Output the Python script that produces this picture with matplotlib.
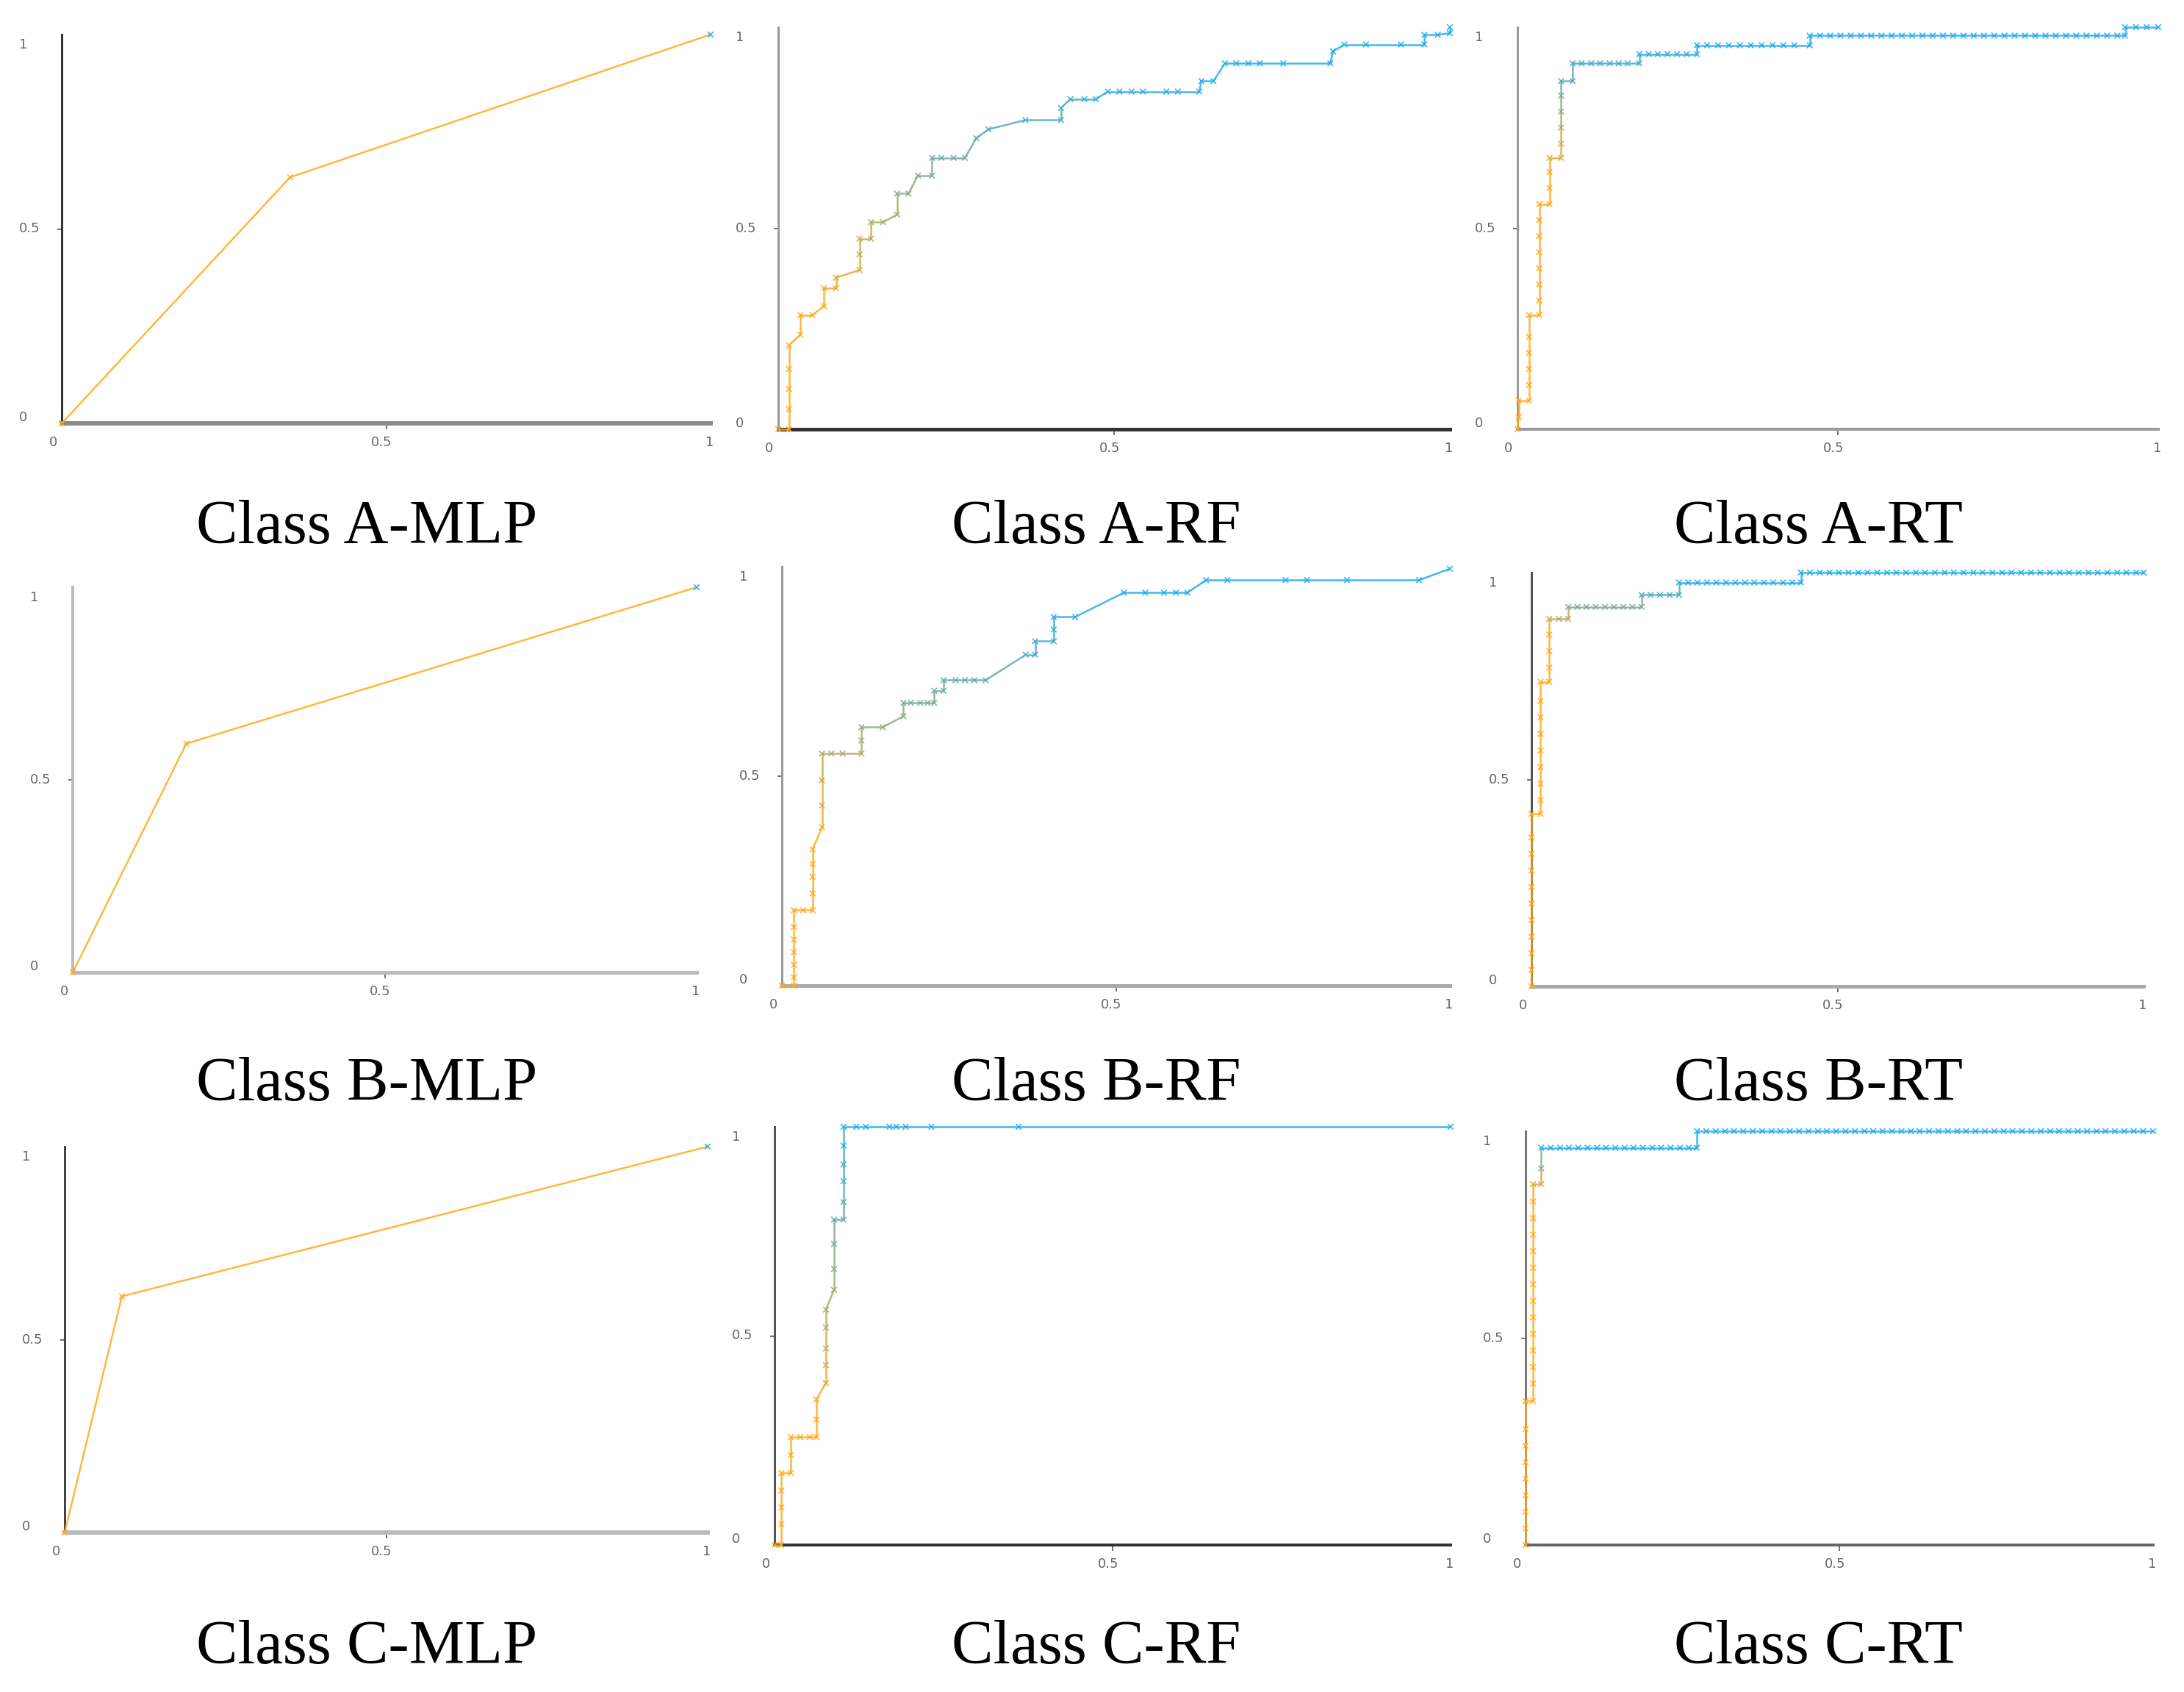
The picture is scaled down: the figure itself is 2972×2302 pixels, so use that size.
import matplotlib.pyplot as plt
import numpy as np
from matplotlib.collections import LineCollection
from matplotlib import transforms

# ROC points: false positive rate / true positive rate
a_mlp_fpr = [0, 0.352, 1]
a_mlp_tpr = [0, 0.633, 1]
b_mlp_fpr = [0, 0.182, 1]
b_mlp_tpr = [0, 0.594, 1]
c_mlp_fpr = [0, 0.089, 1]
c_mlp_tpr = [0, 0.612, 1]

a_rf_fpr = [0, 0.016, 0.016, 0.016, 0.016, 0.016, 0.033, 0.033, 0.051, 0.068, 0.068, 0.086, 0.086,
            0.121, 0.121, 0.121, 0.138, 0.138, 0.156, 0.177, 0.177, 0.194, 0.208, 0.229, 0.229, 0.243,
            0.261, 0.278, 0.295, 0.313, 0.368, 0.421, 0.421, 0.435, 0.456, 0.473, 0.491, 0.508, 0.526,
            0.543, 0.578, 0.595, 0.627, 0.630, 0.648, 0.665, 0.682, 0.700, 0.717, 0.752, 0.822, 0.826,
            0.843, 0.875, 0.927, 0.962, 0.962, 0.982, 1.0, 1.0]
a_rf_tpr = [0, 0, 0.05, 0.10, 0.15, 0.209, 0.235, 0.284, 0.284, 0.306, 0.351, 0.351, 0.377,
            0.396, 0.435, 0.474, 0.474, 0.515, 0.515, 0.534, 0.586, 0.586, 0.631, 0.631, 0.675, 0.675,
            0.675, 0.675, 0.724, 0.746, 0.769, 0.769, 0.799, 0.821, 0.821, 0.821, 0.840, 0.840, 0.840,
            0.840, 0.840, 0.840, 0.840, 0.866, 0.866, 0.910, 0.910, 0.910, 0.910, 0.910, 0.910, 0.940,
            0.957, 0.957, 0.957, 0.957, 0.981, 0.981, 0.985, 1.0]

b_rf_fpr = [0, 0.018, 0.018, 0.018, 0.018, 0.018, 0.018, 0.018, 0.032, 0.046, 0.046, 0.046, 0.046,
            0.046, 0.060, 0.060, 0.060, 0.060, 0.074, 0.091, 0.119, 0.119, 0.119, 0.151, 0.182, 0.182,
            0.193, 0.207, 0.218, 0.228, 0.228, 0.242, 0.242, 0.260, 0.274, 0.288, 0.305, 0.365, 0.379,
            0.379, 0.407, 0.407, 0.407, 0.439, 0.512, 0.544, 0.572, 0.590, 0.607, 0.635, 0.667, 0.754,
            0.786, 0.846, 0.954, 1.0]
b_rf_tpr = [0, 0, 0.02, 0.05, 0.08, 0.11, 0.14, 0.180, 0.180, 0.180, 0.22, 0.26, 0.29,
            0.325, 0.378, 0.43, 0.49, 0.554, 0.554, 0.554, 0.554, 0.585, 0.617, 0.617, 0.643, 0.675,
            0.675, 0.675, 0.675, 0.675, 0.704, 0.704, 0.729, 0.729, 0.729, 0.729, 0.729, 0.790, 0.790,
            0.822, 0.822, 0.850, 0.880, 0.880, 0.938, 0.938, 0.938, 0.938, 0.938, 0.968, 0.968, 0.968,
            0.968, 0.968, 0.968, 0.995]

c_rf_fpr = [0, 0.010, 0.010, 0.010, 0.010, 0.010, 0.024, 0.024, 0.024, 0.038, 0.052, 0.062, 0.062,
            0.062, 0.076, 0.076, 0.076, 0.076, 0.076, 0.088, 0.088, 0.088, 0.088, 0.102, 0.102, 0.102,
            0.102, 0.102, 0.102, 0.121, 0.135, 0.170, 0.180, 0.194, 0.232, 0.361, 1.0]
c_rf_tpr = [0, 0, 0.05, 0.09, 0.13, 0.172, 0.172, 0.215, 0.258, 0.258, 0.258, 0.258, 0.30,
            0.348, 0.387, 0.43, 0.47, 0.52, 0.563, 0.610, 0.66, 0.72, 0.778, 0.778, 0.82, 0.87,
            0.91, 0.955, 1.0, 1.0, 1.0, 1.0, 1.0, 1.0, 1.0, 1.0, 1.0]

a_rt_fpr = [0, 0.002, 0.002, 0.018, 0.018, 0.018, 0.018, 0.018, 0.018, 0.034, 0.034, 0.034, 0.034,
            0.034, 0.034, 0.034, 0.034, 0.050, 0.050, 0.050, 0.050, 0.068, 0.068, 0.068, 0.068, 0.068,
            0.068, 0.086, 0.086, 0.100, 0.115, 0.129, 0.144, 0.158, 0.172, 0.190, 0.190, 0.205, 0.219,
            0.234, 0.249, 0.264, 0.280, 0.280, 0.296, 0.313, 0.330, 0.347, 0.364, 0.381, 0.398, 0.415,
            0.432, 0.456, 0.456, 0.472, 0.488, 0.504, 0.520, 0.536, 0.552, 0.568, 0.584, 0.600, 0.616,
            0.632, 0.648, 0.664, 0.680, 0.696, 0.712, 0.728, 0.744, 0.760, 0.776, 0.792, 0.808, 0.824,
            0.840, 0.856, 0.872, 0.888, 0.904, 0.920, 0.936, 0.948, 0.948, 0.965, 0.982, 1.0]
a_rt_tpr = ([0, 0.03, 0.071, 0.071, 0.11, 0.15, 0.19, 0.23, 0.284, 0.284, 0.32, 0.36, 0.40,
             0.44, 0.48, 0.52, 0.560, 0.560, 0.60, 0.64, 0.675, 0.675, 0.71, 0.75, 0.79, 0.83,
             0.866, 0.866] + [0.910] * 8 + [0.933] * 7 + [0.955] * 11 + [0.979] * 32 + [1.0] * 4)

b_rt_fpr = [0, 0, 0, 0, 0, 0, 0, 0, 0, 0, 0, 0.015, 0.015, 0.015, 0.015, 0.015, 0.015, 0.015, 0.015,
            0.015, 0.029, 0.029, 0.029, 0.029, 0.029, 0.045, 0.060, 0.060, 0.075, 0.090, 0.105, 0.120,
            0.135, 0.150, 0.165, 0.180, 0.180, 0.195, 0.210, 0.226, 0.241, 0.241, 0.256, 0.271, 0.287,
            0.302, 0.318, 0.333, 0.349, 0.364, 0.380, 0.395, 0.411, 0.426, 0.440, 0.440, 0.455, 0.471,
            0.487, 0.502, 0.518, 0.534, 0.549, 0.565, 0.581, 0.596, 0.612, 0.628, 0.643, 0.659, 0.675,
            0.690, 0.706, 0.722, 0.737, 0.753, 0.769, 0.784, 0.800, 0.816, 0.831, 0.847, 0.863, 0.878,
            0.894, 0.910, 0.925, 0.941, 0.957, 0.972, 0.988, 1.0]
b_rt_tpr = ([0, 0.04, 0.08, 0.12, 0.16, 0.20, 0.24, 0.28, 0.32, 0.36, 0.417,
             0.417, 0.45, 0.49, 0.53, 0.57, 0.61, 0.65, 0.69, 0.736,
             0.736, 0.77, 0.81, 0.85, 0.888, 0.888, 0.888]
            + [0.917] * 9 + [0.946] * 5 + [0.976] * 14 + [1.0] * 37)

c_rt_fpr = ([0] * 9 + [0.012] * 14 + [0.025] * 3
            + [0.040, 0.055, 0.069, 0.084, 0.099, 0.114, 0.128, 0.143, 0.158, 0.172, 0.187, 0.202,
               0.216, 0.231, 0.246, 0.260, 0.273, 0.273, 0.288, 0.303, 0.318, 0.332, 0.347, 0.362,
               0.377, 0.392, 0.406, 0.421, 0.436, 0.451, 0.466, 0.480, 0.495, 0.510, 0.525, 0.540,
               0.554, 0.569, 0.584, 0.599, 0.614, 0.628, 0.643, 0.658, 0.673, 0.688, 0.702, 0.717,
               0.732, 0.747, 0.762, 0.776, 0.791, 0.806, 0.821, 0.836, 0.850, 0.865, 0.880, 0.895,
               0.910, 0.924, 0.939, 0.954, 0.969, 0.984, 1.0])
c_rt_tpr = ([0, 0.04, 0.08, 0.12, 0.16, 0.20, 0.24, 0.28, 0.348,
             0.348, 0.39, 0.43, 0.47, 0.51, 0.55, 0.59, 0.63, 0.67, 0.71, 0.75, 0.79, 0.83, 0.872,
             0.872, 0.91, 0.960] + [0.960] * 17 + [1.0] * 50)

titles = ["Class A-MLP", "Class A-RF", "Class A-RT",
          "Class B-MLP", "Class B-RF", "Class B-RT",
          "Class C-MLP", "Class C-RF", "Class C-RT"]
curves = [(a_mlp_fpr, a_mlp_tpr), (a_rf_fpr, a_rf_tpr), (a_rt_fpr, a_rt_tpr),
          (b_mlp_fpr, b_mlp_tpr), (b_rf_fpr, b_rf_tpr), (b_rt_fpr, b_rt_tpr),
          (c_mlp_fpr, c_mlp_tpr), (c_rf_fpr, c_rf_tpr), (c_rt_fpr, c_rt_tpr)]
tick_vals = [0, 0.5, 1]
tick_text = ["0", "0.5", "1"]

W, H = 2972, 2302
# plot boxes in image pixels: x at 0, x at 1, y at 0, y at 1
boxes = [(84, 967, 576, 47), (1059, 1973, 584, 37), (2065, 2937, 584, 37),
         (99, 948, 1323, 799), (1064, 1973, 1341, 771), (2084, 2917, 1342, 779),
         (88, 963, 2085, 1560), (1054, 1974, 2102, 1533), (2076, 2930, 2102, 1539)]
title_pos = [(499, 719), (1492, 719), (2474, 719),
             (499, 1477), (1492, 1477), (2474, 1477),
             (499, 2242), (1492, 2242), (2474, 2242)]
# (left spine colour, px width, bottom spine colour, px width)
spine_style = [("#333333", 3, "#8a8a8a", 6), ("#9a9a9a", 3, "#333333", 5), ("#9a9a9a", 3, "#9a9a9a", 4),
               ("#bbbbbb", 4, "#bbbbbb", 5), ("#999999", 3, "#aaaaaa", 5), ("#555555", 3, "#aaaaaa", 5),
               ("#444444", 3, "#bbbbbb", 6), ("#555555", 3, "#333333", 4), ("#777777", 3, "#666666", 4)]
# tpr range over which the curve colour shifts from orange to blue
color_range = [(0.95, 1.0), (0.30, 0.88), (0.62, 0.96),
               (0.95, 1.0), (0.35, 0.90), (0.85, 0.97),
               (0.95, 1.0), (0.30, 1.0), (0.85, 0.96)]

orange = np.array([1.0, 0.67, 0.1])
blue = np.array([0.12, 0.67, 0.94])

fig = plt.figure(figsize=(W / 100, H / 100), dpi=100)

for i in range(9):
    x0, x1, y0, y1 = boxes[i]
    ax = fig.add_axes([x0 / W, 1 - y0 / H, (x1 - x0) / W, (y0 - y1) / H])
    ax.set_xlim(0, 1)
    ax.set_ylim(0, 1)
    ax.patch.set_alpha(0)
    for s in ["top", "right"]:
        ax.spines[s].set_visible(False)
    lc, lw_l, bc, lw_b = spine_style[i]
    ax.spines["left"].set_color(lc)
    ax.spines["left"].set_linewidth(lw_l * 0.72)
    ax.spines["bottom"].set_color(bc)
    ax.spines["bottom"].set_linewidth(lw_b * 0.72)
    ax.set_xticks([0.5])
    ax.set_yticks([0.5])
    ax.set_xticklabels([])
    ax.set_yticklabels([])
    ax.tick_params(axis="x", direction="out", length=6, width=1.2, color="#555555")
    ax.tick_params(axis="y", direction="out", length=4, width=1.2, color="#555555")

    for v, t, dy in zip(tick_vals, tick_text, [8, 0, -14]):
        tr = transforms.offset_copy(ax.get_yaxis_transform(), fig=fig, x=-58, y=dy, units="dots")
        ax.text(0, v, t, transform=tr, ha="left", va="center", fontsize=13, color="#666666")
    for v, t, dx in zip(tick_vals, tick_text, [-12, -6, -1]):
        tr = transforms.offset_copy(ax.get_xaxis_transform(), fig=fig, x=dx, y=-26, units="dots")
        ax.text(v, 0, t, transform=tr, ha="center", va="center", fontsize=13, color="#666666")

    fpr, tpr = curves[i]
    lo, hi = color_range[i]
    tt = np.clip((np.array(tpr) - lo) / (hi - lo), 0, 1)
    cols = orange[None, :] * (1 - tt[:, None]) + blue[None, :] * tt[:, None]
    pts = np.column_stack([fpr, tpr])
    segs = np.stack([pts[:-1], pts[1:]], axis=1)
    ax.add_collection(LineCollection(segs, colors=cols[:-1], linewidths=1.8, alpha=0.85,
                                     clip_on=False, zorder=3))
    ax.scatter(fpr, tpr, marker="x", s=30, c=cols, linewidths=1.2, alpha=0.9, clip_on=False, zorder=4)

    tx, ty = title_pos[i]
    fig.text(tx / W, 1 - ty / H, titles[i], ha="center", va="center",
             fontsize=61, family="Liberation Serif", color="black")

fig.savefig("out.png", dpi=100)
